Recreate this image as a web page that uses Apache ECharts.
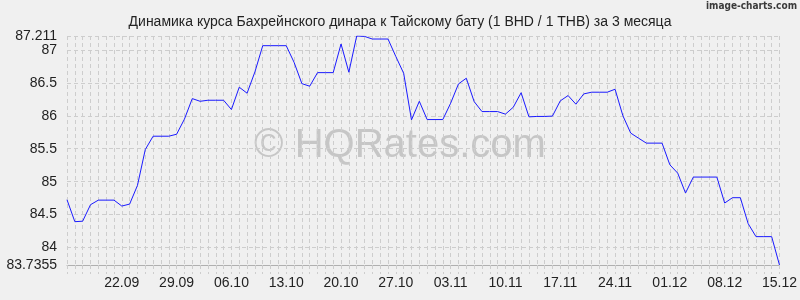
<!DOCTYPE html>
<html>
<head>
<meta charset="utf-8">
<script src="https://cdn.jsdelivr.net/npm/echarts@6/dist/echarts.min.js"></script>
<style>
html,body{margin:0;padding:0;background:#f0f0f0;}
#chart{width:800px;height:300px;}
</style>
</head>
<body>
<div id="chart"></div>
<script>
const titleText = 'Динамика курса Бахрейнского динара к Тайскому бату (1 BHD / 1 THB) за 3 месяца';
const dates = [
  '15.09','16.09','17.09','18.09','19.09','20.09','21.09','22.09','23.09','24.09','25.09','26.09','27.09','28.09','29.09','30.09',
  '01.10','02.10','03.10','04.10','05.10','06.10','07.10','08.10','09.10','10.10','11.10','12.10','13.10','14.10','15.10','16.10',
  '17.10','18.10','19.10','20.10','21.10','22.10','23.10','24.10','25.10','26.10','27.10','28.10','29.10','30.10','31.10',
  '01.11','02.11','03.11','04.11','05.11','06.11','07.11','08.11','09.11','10.11','11.11','12.11','13.11','14.11','15.11',
  '16.11','17.11','18.11','19.11','20.11','21.11','22.11','23.11','24.11','25.11','26.11','27.11','28.11','29.11','30.11',
  '01.12','02.12','03.12','04.12','05.12','06.12','07.12','08.12','09.12','10.12','11.12','12.12','13.12','14.12','15.12'
];
const rates = [
  84.726, 84.393, 84.400, 84.650, 84.720, 84.720, 84.720, 84.630, 84.660, 84.943,
  85.488, 85.690, 85.690, 85.690, 85.720, 85.950, 86.261, 86.220, 86.236, 86.236,
  86.236, 86.095, 86.434, 86.343, 86.666, 87.064, 87.064, 87.064, 87.064, 86.812,
  86.488, 86.449, 86.655, 86.655, 86.655, 87.090, 86.661, 87.211, 87.205, 87.165,
  87.165, 87.165, 86.900, 86.645, 85.938, 86.220, 85.943, 85.943, 85.943, 86.191,
  86.484, 86.570, 86.216, 86.064, 86.064, 86.064, 86.025, 86.130, 86.350, 85.984,
  85.990, 85.990, 85.995, 86.226, 86.307, 86.176, 86.332, 86.358, 86.358, 86.358,
  86.403, 86.000, 85.737, 85.660, 85.585, 85.585, 85.585, 85.256, 85.130, 84.828,
  85.070, 85.070, 85.070, 85.070, 84.676, 84.757, 84.757, 84.363, 84.166, 84.166,
  84.166, 83.7355
];
const yTickValues = [83.7355, 84, 84.5, 85, 85.5, 86, 86.5, 87, 87.211];
const xTickLabels = ['22.09','29.09','06.10','13.10','20.10','27.10','03.11','10.11','17.11','24.11','01.12','08.12','15.12'];
const watermarkText = '© HQRates.com';
const creditText = 'image-charts.com';

const chart = echarts.init(document.getElementById('chart'), null, {renderer: 'canvas'});
const gridColor = '#cdcdcd';
chart.setOption({
  animation: false,
  backgroundColor: '#f0f0f0',
  textStyle: {fontFamily: 'Liberation Sans, Arial, sans-serif'},
  title: {
    text: titleText,
    left: 'center',
    top: 10,
    textStyle: {fontSize: 14, fontWeight: 'normal', color: '#222', fontFamily: 'Liberation Sans, Arial, sans-serif'}
  },
  graphic: [
    {
      type: 'text', left: 'center', top: 126, z: 0, silent: true,
      style: {text: watermarkText, font: '40px "Liberation Sans", Arial, sans-serif', fill: '#c6c6c6'}
    },
    {
      type: 'text', right: 3, top: 1, z: 10, silent: true,
      style: {text: creditText, font: 'bold 10px "Liberation Sans Narrow", "DejaVu Sans Condensed", sans-serif', fill: '#3a3a3a'}
    }
  ],
  grid: {left: 67, right: 20.5, top: 36, bottom: 35, containLabel: false},
  xAxis: {
    type: 'category',
    data: dates,
    boundaryGap: false,
    axisLine: {show: true, lineStyle: {color: '#b0b0b0', width: 1}},
    axisTick: {show: true, interval: 0, length: 9, lineStyle: {color: gridColor, type: [4, 3]}},
    axisLabel: {
      interval: function (i, v) { return xTickLabels.indexOf(v) >= 0; },
      fontSize: 14, color: '#222', margin: 11
    },
    splitLine: {show: true, interval: 0, lineStyle: {color: gridColor, type: [4, 3], width: 1}}
  },
  yAxis: {
    type: 'value',
    min: 83.7355,
    max: 87.211,
    axisLine: {show: false},
    axisTick: {show: false, customValues: yTickValues},
    axisLabel: {
      customValues: yTickValues,
      fontSize: 14, color: '#222', margin: 10,
      formatter: function (v) { return String(v); }
    },
    splitLine: {show: true, lineStyle: {color: gridColor, type: [4, 3], width: 1}}
  },
  series: [{
    type: 'line',
    data: rates,
    showSymbol: false,
    symbol: 'none',
    z: 5,
    lineStyle: {color: '#1a1aff', width: 1}
  }]
});
</script>
</body>
</html>
